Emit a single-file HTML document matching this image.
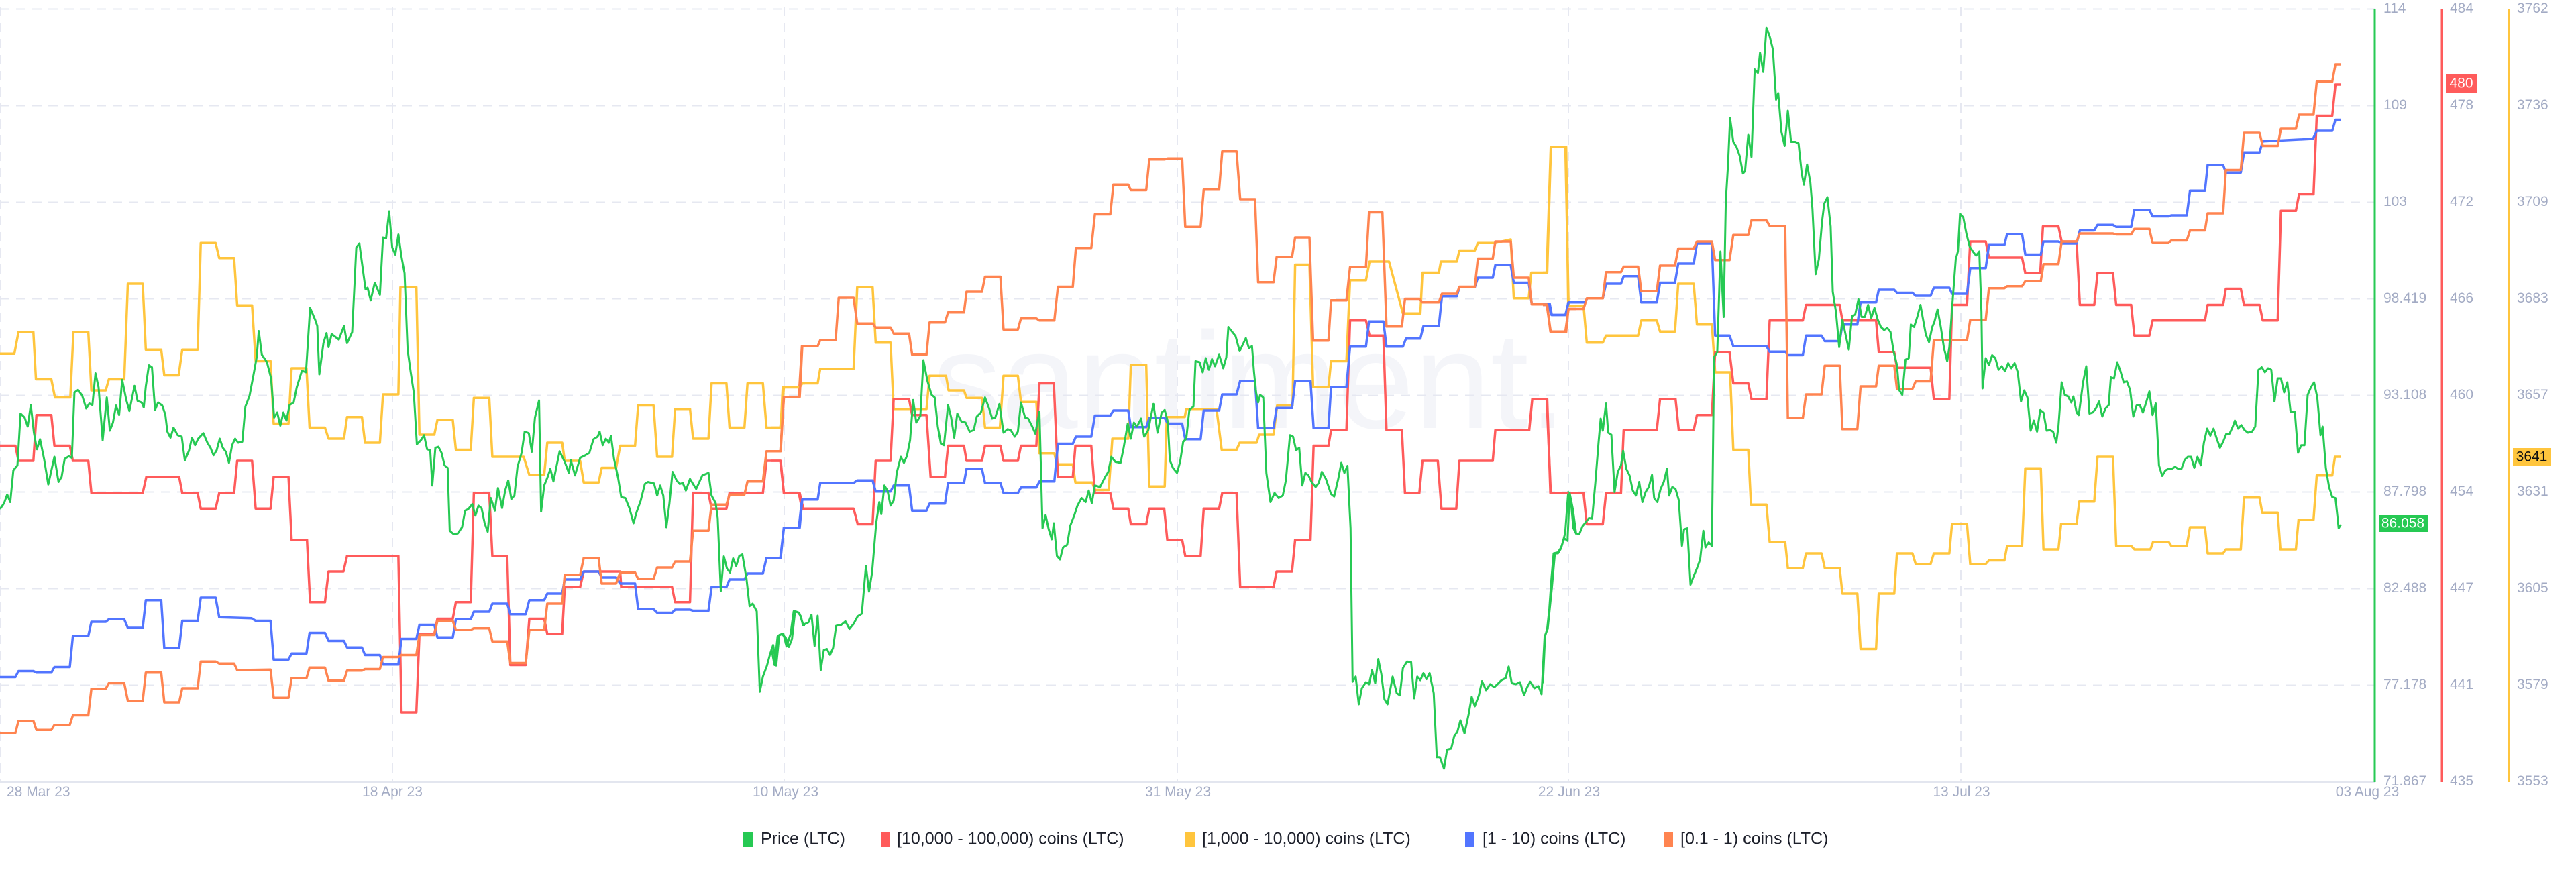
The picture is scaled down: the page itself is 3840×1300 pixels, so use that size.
<!DOCTYPE html>
<html><head><meta charset="utf-8"><style>
html,body{margin:0;padding:0;background:#fff;}
svg{display:block;font-family:"Liberation Sans",sans-serif;}
</style></head><body>
<svg width="3840" height="1300" viewBox="0 0 3840 1300" xmlns="http://www.w3.org/2000/svg">
<rect width="3840" height="1300" fill="#fff"/>
<text x="1390" y="638" font-size="205" fill="#f4f5f9" font-family="Liberation Sans,sans-serif">santiment.</text>
<g stroke="#e6e8f1" stroke-width="2" stroke-dasharray="14,10">
<line x1="0" y1="13.5" x2="3540" y2="13.5"/><line x1="0" y1="157.5" x2="3540" y2="157.5"/><line x1="0" y1="301.5" x2="3540" y2="301.5"/><line x1="0" y1="445.5" x2="3540" y2="445.5"/><line x1="0" y1="589.5" x2="3540" y2="589.5"/><line x1="0" y1="733.5" x2="3540" y2="733.5"/><line x1="0" y1="877.5" x2="3540" y2="877.5"/><line x1="0" y1="1021.5" x2="3540" y2="1021.5"/>
<line x1="1" y1="10" x2="1" y2="1165"/><line x1="585" y1="10" x2="585" y2="1165"/><line x1="1169" y1="10" x2="1169" y2="1165"/><line x1="1755" y1="10" x2="1755" y2="1165"/><line x1="2338" y1="10" x2="2338" y2="1165"/><line x1="2923" y1="10" x2="2923" y2="1165"/>
</g>
<line x1="0" y1="1165.5" x2="3540" y2="1165.5" stroke="#e3e6ef" stroke-width="3"/>
<g fill="none" stroke-width="3.5" stroke-linejoin="round">
<g transform="scale(0.7653,0.75)">
<polyline vector-effect="non-scaling-stroke" stroke="#ffc53d" points="0,703 28,703 36,660 65,660 70,754 100,754 107,790 137,790 143,660 172,660 178,776 206,776 212,754 242,754 249,564 278,564 284,695 314,695 320,746 348,746 355,695 385,695 391,483 420,483 427,513 456,513 462,607 491,607 498,718 527,718 533,842 562,842 568,732 597,732 603,850 633,850 640,872 670,872 676,829 705,829 711,880 740,880 746,784 776,784 780,571 811,571 817,864 846,864 852,835 882,835 888,894 917,894 923,791 953,791 959,908 1020,908 1031,944 1060,944 1066,880 1095,880 1100,916 1130,916 1137,959 1166,959 1172,930 1200,930 1208,886 1237,886 1243,806 1273,806 1280,908 1309,908 1315,813 1344,813 1350,872 1380,872 1386,762 1415,762 1421,850 1450,850 1456,762 1486,762 1493,850 1520,850 1527,769 1556,769 1562,762 1568,762"/>
<polyline vector-effect="non-scaling-stroke" stroke="#ff5b5b" points="0,886 30,886 36,916 65,916 71,825 100,825 106,886 136,886 142,916 172,916 178,980 278,980 285,948 349,948 355,980 385,980 391,1011 420,1011 427,980 456,980 462,916 491,916 498,1011 527,1011 533,948 562,948 568,1073 598,1073 604,1197 633,1197 640,1136 669,1136 676,1105 776,1105 782,1416 811,1416 817,1260 846,1260 852,1230 882,1230 888,1197 917,1197 923,980 953,980 959,1105 988,1105 994,1322 1024,1322 1031,1230 1060,1230 1066,1260 1095,1260 1100,1167 1130,1167 1137,1136 1208,1136 1210,1167 1309,1167 1315,1197 1344,1197 1350,980 1380,980 1386,1011 1415,1011 1421,980 1486,980 1493,916 1520,916 1527,980 1556,980 1562,1011 1568,1011"/>
<polyline vector-effect="non-scaling-stroke" stroke="#5275ff" points="0,1346 30,1346 36,1334 65,1334 71,1337 100,1337 106,1326 136,1326 142,1264 172,1264 178,1236 206,1236 212,1231 242,1231 249,1248 278,1248 284,1193 314,1193 320,1288 349,1288 355,1234 385,1234 391,1188 420,1188 427,1227 490,1229 498,1234 527,1234 533,1311 562,1311 568,1299 597,1299 603,1258 633,1258 640,1274 670,1274 676,1287 705,1287 711,1302 740,1302 746,1321 776,1321 782,1270 811,1270 817,1242 846,1242 852,1267 882,1267 888,1231 917,1231 923,1216 953,1216 959,1200 988,1200 994,1221 1024,1221 1031,1193 1060,1193 1066,1180 1095,1180 1100,1152 1130,1152 1137,1136 1166,1136 1172,1148 1200,1148 1208,1160 1237,1160 1243,1211 1273,1211 1280,1218 1309,1218 1315,1212 1344,1212 1350,1214 1380,1214 1386,1167 1415,1167 1421,1152 1450,1152 1456,1140 1486,1140 1493,1109 1520,1109 1527,1049 1556,1049 1562,993 1568,993"/>
<polyline vector-effect="non-scaling-stroke" stroke="#ff8450" points="0,1457 30,1457 36,1433 65,1433 71,1451 100,1451 106,1441 136,1441 142,1422 172,1422 178,1369 206,1369 212,1358 242,1358 249,1393 278,1393 284,1337 314,1337 320,1396 349,1396 355,1368 385,1368 391,1315 420,1315 427,1319 456,1319 462,1332 527,1331 533,1387 562,1387 568,1348 597,1348 603,1327 633,1327 640,1353 670,1353 676,1333 705,1333 711,1330 740,1330 746,1306 776,1306 782,1302 811,1302 817,1262 846,1262 852,1234 882,1234 888,1252 917,1252 923,1249 953,1249 959,1275 988,1275 994,1318 1024,1318 1031,1252 1060,1252 1066,1200 1095,1200 1100,1143 1130,1143 1137,1109 1166,1109 1172,1160 1200,1160 1208,1138 1237,1138 1243,1151 1273,1151 1280,1128 1309,1128 1315,1116 1344,1116 1350,1055 1380,1055 1386,1003 1415,1003 1421,983 1450,983 1456,957 1486,957 1493,897 1520,897 1527,789 1556,789 1562,688 1568,688"/>
<polyline vector-effect="non-scaling-stroke" stroke="#26c953" stroke-width="3" points="0,1012 8,1000 14,983 20,998 26,935 34,925 40,822 48,830 54,848 60,805 66,860 72,893 78,873 86,913 94,963 106,908 114,958 120,948 126,912 134,907 140,910 145,780 152,775 160,786 168,812 174,802 180,805 186,742 192,770 200,875 208,790 214,856 220,840 226,806 232,825 238,755 246,795 252,817 262,767 268,797 276,800 280,810 284,768 290,726 296,730 302,815 308,800 316,806 322,824 326,858 332,870 338,850 346,865 354,868 360,915 368,896 374,870 380,885 386,872 396,861 404,880 410,890 416,905 422,895 428,872 434,890 440,898 446,920 452,885 458,872 464,880 472,878 478,808 486,787 494,744 500,710 504,658 510,705 520,720 528,752 534,830 540,820 546,846 552,820 558,836 564,805 572,800 578,770 588,737 596,740 604,612 614,636 618,648 622,744 630,682 636,662 640,690 646,664 660,675 670,648 676,682 686,660 694,492 700,484 712,575 716,572 722,597 730,562 740,586 746,472 752,474 758,420 764,492 770,506 776,466 782,510 788,543 794,695 800,740 806,780 812,883 820,875 826,865 832,893 838,895 842,965 848,890 854,888 860,900 866,925 872,930 876,1055 884,1062 892,1060 900,1048 906,1015 912,1012 920,1002 926,1025 932,1005 938,1010 944,1040 950,1057 956,990 964,1015 970,970 978,1010 984,975 990,955 996,992 1002,985 1008,928 1016,900 1022,858 1030,861 1036,898 1042,830 1050,796 1054,1017 1060,965 1066,950 1072,932 1078,957 1090,897 1100,918 1108,940 1112,915 1120,945 1130,910 1140,905 1148,900 1156,873 1164,868 1168,858 1174,885 1180,872 1186,880 1190,866 1196,912 1204,950 1210,988 1218,990 1226,1010 1234,1040 1240,1018 1248,995 1256,962 1262,958 1274,961 1280,985 1286,965 1292,985 1298,1048 1304,1000 1310,938 1318,955 1324,962 1330,960 1336,975 1344,952 1356,972 1368,945 1380,940 1386,985 1394,1000 1398,1030 1404,1175 1410,1106 1416,1130 1422,1138 1428,1110 1434,1125 1440,1105 1446,1102 1454,1150 1460,1205 1466,1200 1474,1215 1480,1375 1486,1345 1494,1323 1500,1300 1506,1282 1512,1323 1518,1262 1526,1260 1532,1285 1540,1260 1546,1215 1554,1217 1560,1225 1564,1243 1568,1243"/>
</g>
<g transform="translate(1150,0) scale(0.7653,0.75)">
<polyline vector-effect="non-scaling-stroke" stroke="#ffc53d" points="0,850 18,850 22,770 55,770 60,762 90,762 95,733 160,733 167,571 197,571 203,681 232,681 238,813 302,813 308,747 340,747 345,776 375,776 380,791 410,791 416,850 445,850 452,747 480,747 486,799 516,799 522,901 551,901 556,923 587,923 592,959 625,959 630,974 657,974 664,872 695,872 700,725 730,725 736,967 766,967 770,829 805,829 808,813 867,813 877,894 906,894 912,880 945,880 950,864 978,864 985,806 1015,806 1020,526 1048,526 1055,769 1085,769 1090,718 1120,718 1127,557 1158,557 1165,520 1198,520 1203,520 1230,623 1264,623 1268,542 1300,542 1304,520 1335,520 1340,498 1370,498 1376,483 1410,483 1440,476 1446,593 1475,593 1480,542 1510,542 1518,292 1548,292 1552,608 1568,608"/>
<polyline vector-effect="non-scaling-stroke" stroke="#ff5b5b" points="0,916 18,916 24,980 55,980 62,1011 160,1011 168,1042 197,1042 203,916 232,916 238,793 268,793 274,825 302,825 310,948 338,948 344,886 375,886 380,916 410,916 416,886 446,886 452,916 480,916 486,886 516,886 522,762 550,762 558,948 587,948 592,886 623,886 630,980 660,980 666,1011 695,1011 700,1042 730,1042 736,1011 765,1011 771,1073 800,1073 806,1105 836,1105 842,1011 872,1011 878,980 906,980 913,1167 978,1167 984,1136 1014,1136 1020,1073 1050,1073 1056,886 1085,886 1090,855 1120,855 1127,637 1158,637 1165,667 1192,667 1198,855 1228,855 1234,980 1262,980 1268,916 1298,916 1305,1011 1334,1011 1340,916 1405,916 1410,855 1476,855 1482,793 1510,793 1518,980 1568,980"/>
<polyline vector-effect="non-scaling-stroke" stroke="#5275ff" points="0,1109 18,1109 24,1049 55,1049 60,993 90,993 95,960 160,960 167,955 197,955 203,977 232,977 238,965 268,965 274,1015 302,1015 308,1001 338,1001 344,960 375,960 380,932 410,932 416,960 446,960 452,980 480,980 486,969 516,969 522,957 551,957 558,882 587,882 593,868 623,868 630,826 660,826 666,816 695,816 700,849 730,849 736,831 766,831 772,842 800,842 806,873 836,873 842,816 872,816 878,784 906,784 913,757 942,757 948,851 978,851 984,811 1014,811 1020,757 1050,757 1056,851 1085,851 1090,769 1120,769 1127,689 1158,689 1164,639 1192,639 1198,689 1230,689 1236,673 1264,673 1270,648 1300,648 1306,589 1335,589 1340,571 1370,571 1376,552 1405,552 1410,527 1440,527 1446,562 1475,562 1481,604 1516,604 1520,626 1548,626 1552,601 1568,601"/>
<polyline vector-effect="non-scaling-stroke" stroke="#ff8450" points="0,897 18,897 24,789 55,789 60,688 90,688 95,676 125,676 131,592 160,592 167,643 197,643 203,651 232,651 238,663 268,663 274,705 302,705 308,641 338,641 344,621 375,621 380,580 410,580 416,550 446,550 452,655 480,655 486,633 516,633 522,637 551,637 558,570 587,570 593,493 623,493 630,426 660,426 666,367 695,367 700,378 730,378 736,317 766,317 772,315 800,315 806,451 836,451 842,377 872,377 878,301 906,301 913,396 942,396 948,561 978,561 984,511 1014,511 1020,472 1048,472 1055,677 1085,677 1090,597 1120,597 1127,531 1158,531 1164,422 1190,422 1198,649 1228,649 1234,594 1262,594 1268,601 1300,601 1306,584 1335,584 1340,570 1370,570 1376,514 1405,514 1410,480 1440,480 1446,552 1475,552 1481,605 1510,605 1518,660 1548,660 1552,614 1568,614"/>
<polyline vector-effect="non-scaling-stroke" stroke="#26c953" stroke-width="3" points="0,1290 6,1322 12,1265 20,1260 28,1268 34,1286 40,1270 46,1215 54,1218 62,1242 72,1237 78,1222 84,1284 90,1224 96,1332 102,1292 108,1290 114,1302 120,1288 126,1244 136,1242 144,1235 152,1250 160,1240 168,1225 176,1220 184,1125 190,1176 196,1138 204,1040 210,998 214,1022 220,965 226,975 232,1005 238,995 244,940 252,908 258,920 264,906 270,875 276,795 282,840 290,827 296,716 304,758 312,785 318,790 324,848 330,882 336,885 344,805 350,830 356,870 362,822 370,838 378,840 386,858 394,855 400,828 408,820 416,790 424,812 430,832 436,830 444,803 452,860 460,853 466,855 474,868 480,858 486,800 494,830 500,832 508,848 514,862 522,818 528,1050 534,1024 540,1052 546,1072 550,1040 556,1105 562,1112 568,1088 576,1083 582,1045 590,1024 596,1005 604,990 612,998 618,975 624,1000 630,965 640,968 650,948 656,938 662,908 670,918 680,920 686,890 694,842 700,872 706,840 712,848 720,832 726,868 734,855 744,803 752,860 760,820 766,815 772,838 776,915 782,930 790,940 796,918 802,878 808,872 814,815 822,808 826,718 834,720 840,740 846,712 852,735 858,714 864,728 872,705 880,732 886,710 890,650 904,668 912,698 918,685 924,672 930,692 936,688 940,740 944,780 948,800 952,785 958,790 964,940 972,998 980,980 988,990 996,985 1002,955 1010,865 1016,868 1022,895 1028,890 1034,965 1040,940 1046,945 1052,958 1060,968 1066,960 1072,938 1080,952 1090,982 1096,987 1104,952 1110,920 1116,940 1122,926 1128,1050 1132,1355 1138,1345 1144,1400 1150,1368 1158,1356 1164,1360 1170,1332 1176,1358 1182,1310 1188,1340 1194,1390 1200,1400 1210,1345 1218,1378 1224,1382 1230,1328 1238,1315 1246,1316 1252,1388 1258,1345 1264,1352 1270,1338 1276,1350 1282,1338 1290,1378 1296,1505 1302,1505 1310,1528 1316,1490 1324,1488 1330,1463 1336,1455 1342,1432 1350,1458 1358,1420 1364,1385 1370,1404 1378,1382 1384,1354 1392,1372 1400,1360 1408,1366 1414,1360 1422,1352 1430,1348 1436,1325 1442,1358 1450,1360 1458,1356 1466,1382 1472,1366 1478,1355 1486,1368 1494,1364 1500,1380 1506,1265 1512,1250 1520,1170 1526,1100 1532,1100 1538,1090 1546,1060 1552,978 1558,1005 1562,1050 1568,1062"/>
</g>
<g transform="translate(2300,0) scale(0.7972,0.75)">
<polyline vector-effect="non-scaling-stroke" stroke="#ffc53d" points="0,542 8,542 15,292 42,292 48,608 76,608 82,681 112,681 118,667 178,667 184,637 213,637 219,659 247,659 253,564 282,564 288,645 316,645 322,740 350,740 356,894 384,894 389,1003 418,1003 424,1077 453,1077 458,1129 486,1129 492,1100 521,1100 527,1129 555,1129 560,1180 588,1180 594,1290 623,1290 628,1180 657,1180 662,1100 691,1100 697,1121 725,1121 731,1100 760,1100 765,1041 793,1041 799,1121 828,1121 834,1114 863,1114 868,1085 896,1085 902,931 931,931 936,1092 964,1092 969,1041 998,1041 1003,997 1031,997 1037,908 1066,908 1072,1085 1100,1085 1106,1092 1136,1092 1141,1077 1170,1077 1175,1085 1204,1085 1210,1048 1238,1048 1243,1100 1272,1100 1277,1092 1305,1092 1311,989 1340,989 1345,1019 1374,1019 1379,1092 1408,1092 1413,1033 1441,1033 1447,945 1476,945 1481,908 1492,908"/>
<polyline vector-effect="non-scaling-stroke" stroke="#ff5b5b" points="0,793 8,793 14,980 76,980 82,1042 112,1042 118,980 146,980 151,855 213,855 219,793 248,793 254,855 282,855 288,825 316,825 322,700 349,700 356,762 384,762 390,793 418,793 424,637 486,637 492,606 555,606 560,637 623,637 628,700 657,700 662,731 725,731 731,793 760,793 765,606 793,606 799,480 828,480 834,512 896,512 902,543 930,543 935,450 964,450 970,480 998,480 1004,606 1031,606 1037,543 1066,543 1072,606 1100,606 1106,667 1134,667 1140,637 1238,637 1243,606 1272,606 1277,574 1305,574 1311,606 1340,606 1346,637 1374,637 1380,419 1408,419 1414,386 1441,386 1447,230 1476,230 1482,168 1492,168"/>
<polyline vector-effect="non-scaling-stroke" stroke="#5275ff" points="0,606 10,606 16,626 42,626 48,601 78,601 83,593 112,593 118,564 146,564 151,549 178,549 184,601 213,601 219,562 247,562 253,524 282,524 288,484 316,484 322,667 349,667 356,688 418,688 424,699 453,699 458,706 486,706 492,667 521,667 527,678 555,678 560,645 588,645 594,601 623,601 628,576 657,576 662,582 691,582 697,588 725,588 731,572 760,572 765,584 793,584 799,533 828,533 834,487 863,487 868,465 896,465 902,506 931,506 936,480 964,480 970,484 998,484 1004,458 1031,458 1037,447 1066,447 1072,451 1100,451 1106,417 1134,417 1140,430 1170,430 1175,428 1204,428 1210,379 1238,379 1243,328 1272,328 1277,343 1305,343 1311,303 1340,303 1346,281 1440,276 1447,260 1476,260 1482,238 1492,238"/>
<polyline vector-effect="non-scaling-stroke" stroke="#ff8450" points="0,606 8,606 14,659 42,659 48,614 76,614 82,593 112,593 118,541 146,541 151,530 178,530 184,579 213,579 219,528 247,528 253,494 282,494 288,480 316,480 322,517 349,517 356,467 384,467 390,438 418,438 424,449 453,449 458,831 486,831 492,784 521,784 527,727 555,727 560,853 588,853 594,768 623,768 628,727 657,727 662,773 691,773 697,758 725,758 731,676 793,676 799,636 828,636 834,573 863,573 868,569 896,569 902,559 931,559 936,525 964,525 970,480 998,480 1004,464 1066,464 1072,466 1100,466 1106,455 1134,455 1140,483 1170,483 1175,478 1204,478 1210,458 1238,458 1243,424 1272,424 1277,338 1305,338 1311,264 1340,264 1346,290 1374,290 1380,256 1408,256 1414,228 1441,228 1447,162 1476,162 1482,128 1492,128"/>
<polyline vector-effect="non-scaling-stroke" stroke="#26c953" stroke-width="3" points="0,1358 4,1265 8,1250 12,1210 16,1150 20,1100 28,1098 34,1088 40,1070 46,1075 50,980 56,1012 62,1060 68,1062 74,1046 80,1038 86,1030 92,1031 98,960 104,880 108,832 112,856 118,802 122,860 128,864 134,978 140,938 146,925 150,896 156,932 162,945 168,975 174,985 180,958 186,998 192,978 198,968 204,944 208,990 214,998 220,972 226,958 232,932 236,985 242,968 248,972 254,994 260,1085 264,1052 270,1050 276,1162 282,1145 288,1130 294,1112 300,1055 304,1088 310,1078 316,1085 320,710 326,700 332,500 338,630 342,400 346,330 350,235 356,282 362,292 368,310 374,345 378,340 384,268 390,312 396,138 402,145 406,105 412,143 418,55 424,72 430,98 436,198 440,185 446,262 452,290 458,220 464,282 472,282 478,285 484,345 488,367 494,327 500,362 504,415 510,545 516,515 522,440 526,405 532,392 538,450 542,580 548,620 554,690 560,635 566,665 572,695 578,628 584,625 590,595 596,630 602,630 608,606 614,632 620,612 626,635 632,650 638,656 644,652 650,660 656,700 662,725 666,775 672,785 678,715 684,712 688,645 694,650 700,630 706,606 710,630 716,665 722,680 728,650 732,640 738,615 744,650 750,692 756,718 760,690 766,600 772,515 776,500 780,425 786,432 792,465 798,490 804,500 810,508 816,500 820,620 822,772 828,712 834,726 840,706 846,712 852,735 858,728 864,738 870,722 876,732 882,722 888,740 894,798 900,776 906,790 912,856 918,836 924,858 930,815 936,820 942,856 948,855 954,858 960,880 964,848 970,760 976,785 982,788 988,800 992,788 998,820 1002,825 1010,760 1016,728 1022,822 1028,820 1034,812 1040,798 1046,828 1052,812 1058,805 1062,750 1068,752 1074,720 1080,738 1086,760 1092,758 1098,775 1104,828 1110,806 1116,805 1122,820 1128,800 1134,778 1140,825 1146,802 1152,925 1158,946 1164,935 1170,932 1176,932 1182,928 1188,932 1194,932 1200,914 1206,908 1212,908 1218,930 1224,908 1230,925 1236,880 1242,852 1248,866 1254,852 1260,872 1266,890 1272,878 1278,862 1284,862 1290,848 1294,836 1300,852 1306,845 1312,855 1318,860 1326,858 1332,848 1338,735 1344,730 1350,740 1356,732 1362,735 1368,798 1374,752 1380,752 1386,780 1392,760 1398,818 1406,818 1412,900 1418,885 1424,885 1430,785 1436,770 1442,760 1448,790 1454,865 1458,848 1464,930 1470,968 1476,988 1482,990 1488,1050 1492,1043"/>
</g>
</g>
<line x1="3540" y1="13" x2="3540" y2="1166" stroke="#26c953" stroke-width="3"/>
<line x1="3640" y1="13" x2="3640" y2="1166" stroke="#ff5b5b" stroke-width="3"/>
<line x1="3740" y1="13" x2="3740" y2="1166" stroke="#ffc53d" stroke-width="3"/>
<g font-size="21" fill="#a3abc4" dominant-baseline="middle">
<text x="3553" y="13.5">114</text><text x="3553" y="157.5">109</text><text x="3553" y="301.5">103</text><text x="3553" y="445.5">98.419</text><text x="3553" y="589.5">93.108</text><text x="3553" y="733.5">87.798</text><text x="3553" y="877.5">82.488</text><text x="3553" y="1021.5">77.178</text><text x="3553" y="1165.5">71.867</text>
<text x="3652" y="13.5">484</text><text x="3652" y="157.5">478</text><text x="3652" y="301.5">472</text><text x="3652" y="445.5">466</text><text x="3652" y="589.5">460</text><text x="3652" y="733.5">454</text><text x="3652" y="877.5">447</text><text x="3652" y="1021.5">441</text><text x="3652" y="1165.5">435</text>
<text x="3752" y="13.5">3762</text><text x="3752" y="157.5">3736</text><text x="3752" y="301.5">3709</text><text x="3752" y="445.5">3683</text><text x="3752" y="589.5">3657</text><text x="3752" y="733.5">3631</text><text x="3752" y="877.5">3605</text><text x="3752" y="1021.5">3579</text><text x="3752" y="1165.5">3553</text>
</g>
<rect x="3646" y="111" width="46" height="27" fill="#ff5b5b"/>
<text x="3669" y="125" font-size="21" fill="#fff" text-anchor="middle" dominant-baseline="middle">480</text>
<rect x="3546" y="768" width="73" height="25" fill="#26c953"/>
<text x="3582" y="781" font-size="21" fill="#fff" text-anchor="middle" dominant-baseline="middle">86.058</text>
<rect x="3746" y="668" width="57" height="26" fill="#ffc53d"/>
<text x="3774" y="682" font-size="21" fill="#111" text-anchor="middle" dominant-baseline="middle">3641</text>
<g font-size="21" fill="#a3abc4" text-anchor="middle">
<text x="10" y="1187" text-anchor="start">28 Mar 23</text><text x="585" y="1187">18 Apr 23</text><text x="1171" y="1187">10 May 23</text><text x="1756" y="1187">31 May 23</text><text x="2339" y="1187">22 Jun 23</text><text x="2924" y="1187">13 Jul 23</text><text x="3529" y="1187">03 Aug 23</text>
</g>
<g font-size="25" fill="#1c1f2a" dominant-baseline="middle">
<rect x="1108" y="1240" width="14" height="22" fill="#26c953"/><text x="1134" y="1252">Price (LTC)</text>
<rect x="1313" y="1240" width="14" height="22" fill="#ff5b5b"/><text x="1337" y="1252">[10,000 - 100,000) coins (LTC)</text>
<rect x="1767" y="1240" width="14" height="22" fill="#ffc53d"/><text x="1792" y="1252">[1,000 - 10,000) coins (LTC)</text>
<rect x="2184" y="1240" width="14" height="22" fill="#5275ff"/><text x="2210" y="1252">[1 - 10) coins (LTC)</text>
<rect x="2480" y="1240" width="14" height="22" fill="#ff8450"/><text x="2505" y="1252">[0.1 - 1) coins (LTC)</text>
</g>
</svg>
</body></html>
